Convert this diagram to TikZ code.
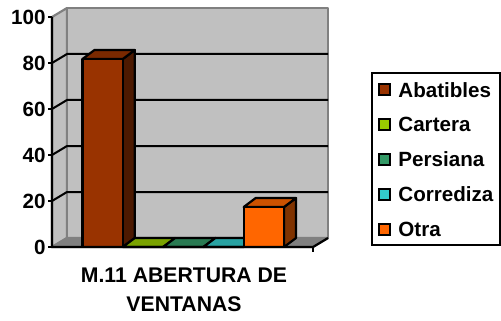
\documentclass[tikz,border=0pt]{standalone}
\usepackage{fontspec}
\setmainfont{Liberation Sans}
\usepackage{xcolor}
\definecolor{wallgray}{HTML}{C0C0C0}
\definecolor{edgegray}{HTML}{808080}
\definecolor{abatibles}{HTML}{993300}
\definecolor{cartera}{HTML}{99CC00}
\definecolor{persiana}{HTML}{339966}
\definecolor{corrediza}{HTML}{33CCCC}
\definecolor{otra}{HTML}{FF6600}
\tikzset{
  wallface/.style={fill=wallgray,draw=edgegray,line width=1.1pt,line join=round},
  gridline/.style={black,line width=1pt},
  axisline/.style={black,line width=1.1pt},
  barface/.style={draw=black,line width=1.1pt,line join=round},
  ticklabel/.style={anchor=east,inner sep=0pt,font=\fontsize{10.3}{12}\bfseries\selectfont},
  legendlabel/.style={anchor=west,inner sep=0pt,font=\fontsize{10.3}{12}\bfseries\selectfont},
  swatch/.style={draw=black,line width=1pt,minimum size=5.5pt,inner sep=0pt},
}
\begin{document}
\begin{tikzpicture}[x=0.5pt,y=-0.5pt]
\useasboundingbox (0,0) rectangle (501,320);
% walls and floor
\coordinate (O) at (52,247);\coordinate (Ob) at (67,238);
\coordinate (T) at (52,17);\coordinate (Tb) at (67,8);
\coordinate (R) at (313,247);\coordinate (Rb) at (328,238);
\draw[wallface] (T) -- (Tb) -- (Ob) -- (O) -- cycle;
\draw[wallface] (Tb) rectangle (328,238);
\draw[wallface,fill=edgegray] (O) -- (Ob) -- (Rb) -- (R) -- cycle;
\foreach \k in {1,...,4}{
  \draw[gridline] (52,247-46*\k) -- (67,238-46*\k) -- (328,238-46*\k);
}
% columns
\foreach \x/\h/\c in {82.5/188/abatibles,122.8/0/cartera,163.1/0/persiana,203.4/0/corrediza,243.7/40/otra}{
  \draw[barface,fill=\c!50!black] (\x+40.3,247) -- ++(12,-9) -- ++(0,-\h) -- ++(-12,9) -- cycle;
  \draw[barface,fill=\c!80!black] (\x,247-\h) -- ++(12,-9) -- ++(40.3,0) -- ++(-12,9) -- cycle;
  \ifdim \h pt>0pt
    \draw[barface,fill=\c] (\x,247) rectangle (\x+40.3,247-\h);
  \fi
}
% axes
\draw[axisline] (T) -- (O) -- (R) -- (Rb);
\draw[axisline] (R) -- ++(0,5);
\foreach \v in {0,20,...,100}{
  \draw[axisline] (48,247-2.3*\v) -- (52,247-2.3*\v);
  \node[ticklabel] (y\v) at (46,247-2.3*\v) {\v};
}
% legend
\draw[black,line width=1.1pt,fill=white] (372,73) rectangle (500,245);
\foreach \c/\t [count=\i] in {abatibles/Abatibles,cartera/Cartera,persiana/Persiana,corrediza/Corrediza,otra/Otra}{
  \node[swatch,fill=\c] (sw\i) at (384,90+34.8*\i-34.8) {};
  \node[legendlabel] (lab\i) at (398,90+34.8*\i-34.8) {\t};
}
% title
\node[align=center,font=\fontsize{10.6}{14.5}\bfseries\selectfont] (title) at (184,289.5) {M.11 ABERTURA DE\\VENTANAS};
\end{tikzpicture}
\end{document}
